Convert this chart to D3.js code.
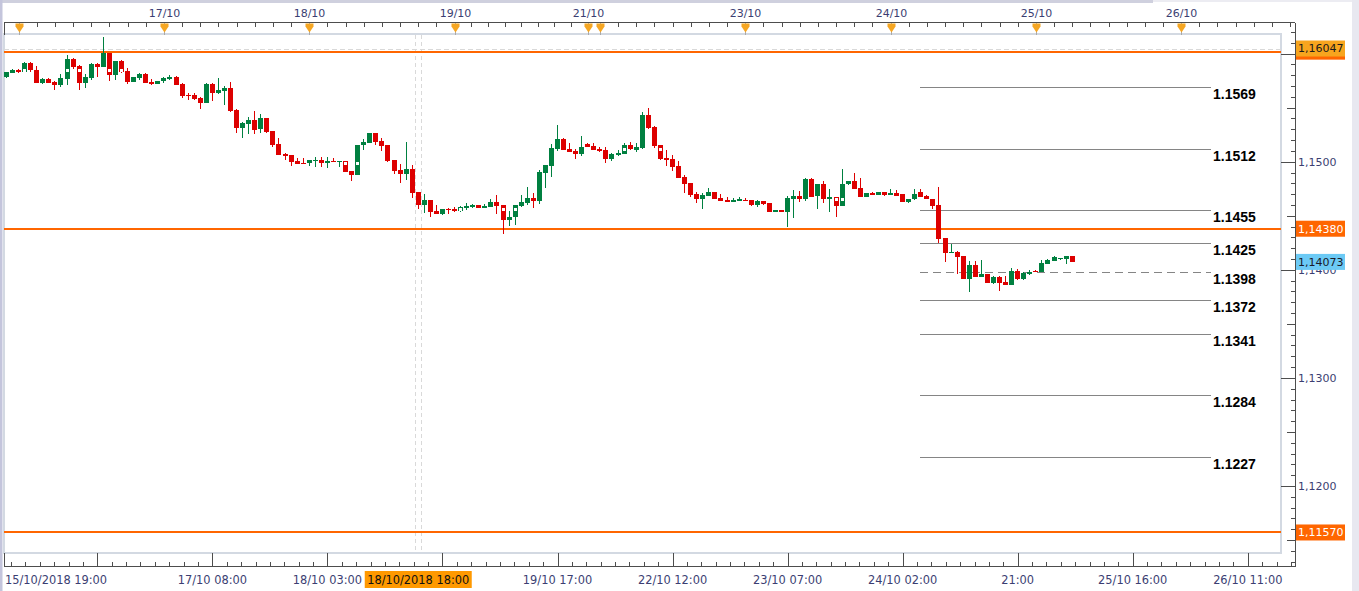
<!DOCTYPE html>
<html><head><meta charset="utf-8">
<script src="https://cdn.jsdelivr.net/npm/d3@7"></script>
<style>html,body{margin:0;padding:0;background:#fff;overflow:hidden}</style>
</head><body><svg id="c" width="1359" height="591"></svg>
<script>
// ---- hourly candles (index 0 = 15/10 22:00, weekend hours removed) ----
const opens=[1.15786,1.15823,1.15846,1.15833,1.15913,1.15848,1.15731,1.15765,1.15737,1.15710,1.15765,1.15950,1.15885,1.15731,1.15777,1.15904,1.15879,1.16008,1.15805,1.15932,1.15839,1.15737,1.15777,1.15811,1.15737,1.15722,1.15750,1.15765,1.15784,1.15722,1.15620,1.15617,1.15590,1.15546,1.15719,1.15636,1.15657,1.15682,1.15478,1.15312,1.15349,1.15386,1.15300,1.15402,1.15284,1.15167,1.15071,1.15062,1.15009,1.14991,1.14985,1.15004,1.15016,1.14991,1.15009,1.15000,1.15006,1.14914,1.14880,1.15152,1.15173,1.15266,1.15192,1.15155,1.15016,1.14923,1.14889,1.14933,1.14720,1.14602,1.14646,1.14544,1.14519,1.14565,1.14562,1.14541,1.14572,1.14581,1.14600,1.14572,1.14581,1.14627,1.14600,1.14465,1.14484,1.14590,1.14621,1.14664,1.14637,1.14896,1.14960,1.15118,1.15210,1.15118,1.15099,1.15071,1.15164,1.15145,1.15118,1.15108,1.15025,1.15065,1.15071,1.15155,1.15108,1.15127,1.15432,1.15321,1.15155,1.15034,1.15025,1.14960,1.14858,1.14803,1.14701,1.14655,1.14683,1.14720,1.14664,1.14646,1.14627,1.14637,1.14650,1.14646,1.14600,1.14637,1.14618,1.14535,1.14553,1.14538,1.14658,1.14683,1.14658,1.14840,1.14686,1.14793,1.14658,1.14673,1.14593,1.14793,1.14822,1.14757,1.14676,1.14713,1.14695,1.14720,1.14695,1.14711,1.14699,1.14630,1.14652,1.14720,1.14686,1.14655,1.14600,1.14294,1.14158,1.14168,1.14128,1.13918,1.14042,1.13936,1.13958,1.13881,1.13936,1.13887,1.13862,1.13992,1.13912,1.13964,1.13992,1.13980,1.14057,1.14084,1.14097,1.14103,1.14125];
const highs=[1.15834,1.15858,1.15853,1.15922,1.15918,1.15885,1.15770,1.15770,1.15742,1.15811,1.15987,1.15959,1.15890,1.15811,1.15909,1.15909,1.16154,1.16010,1.15936,1.15941,1.15867,1.15788,1.15816,1.15816,1.15765,1.15751,1.15779,1.15802,1.15793,1.15724,1.15640,1.15636,1.15594,1.15724,1.15724,1.15777,1.15700,1.15737,1.15483,1.15363,1.15414,1.15469,1.15441,1.15404,1.15288,1.15217,1.15076,1.15066,1.15032,1.15032,1.15020,1.15041,1.15041,1.15041,1.15037,1.15011,1.15011,1.14918,1.15159,1.15210,1.15270,1.15270,1.15219,1.15159,1.15020,1.14976,1.15182,1.14972,1.14724,1.14701,1.14650,1.14600,1.14567,1.14570,1.14581,1.14586,1.14615,1.14609,1.14604,1.14611,1.14655,1.14692,1.14604,1.14544,1.14604,1.14692,1.14766,1.14711,1.14923,1.14974,1.15167,1.15340,1.15215,1.15173,1.15118,1.15238,1.15169,1.15173,1.15136,1.15136,1.15076,1.15108,1.15173,1.15182,1.15173,1.15460,1.15497,1.15326,1.15159,1.15108,1.15062,1.15006,1.14877,1.14807,1.14720,1.14711,1.14757,1.14724,1.14701,1.14673,1.14664,1.14673,1.14664,1.14650,1.14646,1.14641,1.14622,1.14556,1.14556,1.14683,1.14738,1.14732,1.14845,1.14845,1.14798,1.14822,1.14748,1.14677,1.14933,1.14826,1.14896,1.14849,1.14715,1.14723,1.14724,1.14724,1.14748,1.14741,1.14704,1.14655,1.14745,1.14745,1.14690,1.14659,1.14769,1.14298,1.14239,1.14172,1.14132,1.14081,1.14081,1.14094,1.13962,1.13940,1.13940,1.13943,1.14017,1.14005,1.13977,1.13995,1.14001,1.14091,1.14098,1.14125,1.14113,1.14128,1.14128];
const lows=[1.15777,1.15820,1.15821,1.15830,1.15833,1.15728,1.15722,1.15728,1.15663,1.15694,1.15712,1.15860,1.15663,1.15685,1.15756,1.15786,1.15876,1.15750,1.15756,1.15825,1.15722,1.15733,1.15759,1.15728,1.15712,1.15719,1.15731,1.15759,1.15705,1.15592,1.15574,1.15571,1.15488,1.15543,1.15564,1.15626,1.15527,1.15460,1.15266,1.15219,1.15256,1.15256,1.15263,1.15270,1.15139,1.15060,1.15016,1.14963,1.14977,1.14979,1.14963,1.14954,1.14954,1.14945,1.14997,1.14954,1.14905,1.14824,1.14877,1.15106,1.15169,1.15157,1.15102,1.14997,1.14889,1.14806,1.14831,1.14667,1.14562,1.14528,1.14491,1.14515,1.14510,1.14519,1.14537,1.14539,1.14551,1.14572,1.14568,1.14568,1.14577,1.14519,1.14331,1.14408,1.14417,1.14581,1.14602,1.14575,1.14609,1.14757,1.14861,1.15099,1.15104,1.15090,1.15025,1.15056,1.15132,1.15108,1.15090,1.14988,1.15006,1.15056,1.15067,1.15108,1.15090,1.15122,1.15307,1.15127,1.15020,1.14960,1.14914,1.14845,1.14711,1.14673,1.14618,1.14562,1.14679,1.14651,1.14633,1.14624,1.14624,1.14633,1.14633,1.14590,1.14581,1.14600,1.14535,1.14531,1.14531,1.14396,1.14482,1.14630,1.14639,1.14672,1.14565,1.14621,1.14532,1.14491,1.14588,1.14789,1.14746,1.14672,1.14672,1.14692,1.14692,1.14686,1.14692,1.14683,1.14627,1.14621,1.14648,1.14672,1.14655,1.14562,1.14251,1.14075,1.14154,1.13959,1.13914,1.13792,1.13932,1.13932,1.13877,1.13866,1.13807,1.13855,1.13858,1.13908,1.13908,1.13955,1.13977,1.13977,1.14054,1.14080,1.14094,1.14051,1.14073];
const closes=[1.15830,1.15848,1.15830,1.15913,1.15848,1.15731,1.15765,1.15731,1.15710,1.15774,1.15950,1.15879,1.15731,1.15784,1.15904,1.15876,1.16008,1.15805,1.15932,1.15830,1.15737,1.15784,1.15811,1.15731,1.15719,1.15747,1.15774,1.15784,1.15710,1.15608,1.15611,1.15580,1.15543,1.15719,1.15640,1.15663,1.15682,1.15469,1.15312,1.15358,1.15386,1.15293,1.15402,1.15275,1.15157,1.15065,1.15056,1.15000,1.14982,1.14982,1.15016,1.15016,1.14985,1.15009,1.15000,1.15006,1.14908,1.14880,1.15155,1.15182,1.15266,1.15185,1.15148,1.15009,1.14917,1.14889,1.14933,1.14713,1.14602,1.14646,1.14535,1.14519,1.14562,1.14556,1.14541,1.14584,1.14588,1.14600,1.14572,1.14590,1.14627,1.14593,1.14464,1.14490,1.14600,1.14627,1.14664,1.14637,1.14905,1.14970,1.15127,1.15210,1.15108,1.15093,1.15071,1.15136,1.15136,1.15111,1.15102,1.15025,1.15071,1.15083,1.15155,1.15118,1.15136,1.15432,1.15312,1.15145,1.15025,1.15016,1.14951,1.14849,1.14793,1.14692,1.14655,1.14692,1.14720,1.14655,1.14637,1.14627,1.14646,1.14655,1.14637,1.14600,1.14637,1.14609,1.14538,1.14553,1.14535,1.14664,1.14683,1.14658,1.14840,1.14676,1.14793,1.14658,1.14673,1.14593,1.14793,1.14822,1.14750,1.14676,1.14711,1.14695,1.14720,1.14695,1.14708,1.14686,1.14630,1.14652,1.14704,1.14676,1.14658,1.14593,1.14288,1.14158,1.14168,1.14121,1.13918,1.14042,1.13936,1.13958,1.13881,1.13936,1.13881,1.13860,1.13992,1.13912,1.13973,1.13982,1.13980,1.14063,1.14094,1.14116,1.14109,1.14125,1.14073];

// small white event markers (candle index, price)
const markerIdx=[3,10,12,17,19,56,58,75,82,84,102,108,137,138];
const markerVal=[1.15851,1.15851,1.15851,1.15851,1.15851,1.14991,1.14991,1.14562,1.14562,1.14562,1.15118,1.15118,1.14655,1.14655];

// top axis: day starts (candle index) and labels
const dayIdx=[2,26,50,74,96,98,122,146,170,194];
const dayLabels=[null,"17/10","18/10","19/10","21/10",null,"23/10","24/10","25/10","26/10"];
// bottom axis
const timeIdx=[15,34,53,72,91,110,129,148,167,186,205];
const timeLabels=[null,"17/10 08:00","18/10 03:00",null,"19/10 17:00","22/10 12:00","23/10 07:00","24/10 02:00","21:00","25/10 16:00","26/10 11:00"];
const firstTimeLabel="15/10/2018 19:00";
const cursorIdx=68, cursorLabel="18/10/2018 18:00";
// price axis (visible labels)
const priceTicks=[1.12,1.13,1.14,1.15];
// fibonacci levels
const fibLevels=[1.1569,1.1512,1.1455,1.1425,1.1398,1.1372,1.1341,1.1284,1.1227];
const fibDashed=1.1398;
// orange horizontal lines
const orangeLines=[1.16018,1.1438,1.1157];
const orangeLabels=[null,"1,14380","1,11570"];
const highLine=1.16047, highLabel="1,16047";
const lastPrice=1.14073, lastLabel="1,14073";

const svg=d3.select("#c");
const W=1359,H=591;
const PL=4,PR=1281,PT=35,PB=553,AX=1295,TOPY=22.5,BOTY=566.5;
const x=d3.scaleLinear().domain([-0.413,212.8]).range([4,1295]);
const y=d3.scaleLinear().domain([1.12,1.15]).range([486,161.7]);
const FONT="'DejaVu Sans', Verdana, sans-serif";
const TXT="#3b3e72";
const GREEN="#008040", RED="#dd0000", ORANGE="#ff6600";

svg.append("rect").attr("width",W).attr("height",H).attr("fill","#fff");
// window chrome
svg.append("rect").attr("x",0).attr("y",0).attr("width",1153).attr("height",3).attr("fill","#cfd0de");
svg.append("rect").attr("x",1153).attr("y",0).attr("width",206).attr("height",2).attr("fill","#ececf2");
svg.append("rect").attr("x",0).attr("y",0).attr("width",2.5).attr("height",H).attr("fill","#c4c5dc");
svg.append("rect").attr("x",1352).attr("y",0).attr("width",7).attr("height",H).attr("fill","#e8e8f0");

// plot border
svg.append("rect").attr("x",PL).attr("y",PT-1).attr("width",PR-PL).attr("height",PB-PT+1)
  .attr("fill","#fff").attr("stroke","#d3d9e2").attr("stroke-width",2);

const plot=svg.append("g");
// crosshair
[-3,3].forEach(d=>{
  plot.append("line").attr("x1",Math.round(x(cursorIdx))+d+0.5).attr("x2",Math.round(x(cursorIdx))+d+0.5)
   .attr("y1",PT).attr("y2",PB).attr("stroke","#d9d9d9").attr("stroke-dasharray","4,3");
});
// high dashed line
plot.append("line").attr("x1",PL).attr("x2",PR).attr("y1",Math.round(y(highLine))+0.5).attr("y2",Math.round(y(highLine))+0.5)
  .attr("stroke","#d9d9d9").attr("stroke-dasharray","5,3");
// orange lines
orangeLines.forEach(v=>{
  plot.append("line").attr("x1",PL).attr("x2",PR).attr("y1",Math.round(y(v))).attr("y2",Math.round(y(v)))
   .attr("stroke",ORANGE).attr("stroke-width",2);
});
// fib lines
fibLevels.forEach(v=>{
  const yy=Math.round(y(v))+0.5;
  plot.append("line").attr("x1",920).attr("x2",1211).attr("y1",yy).attr("y2",yy)
    .attr("stroke","#858585").attr("stroke-width",1)
    .attr("stroke-dasharray",v===fibDashed?"8,5":null);
  plot.append("text").attr("x",1213).attr("y",yy+11.5).text(v.toFixed(4))
    .attr("font-family","'Liberation Sans', Arial, sans-serif").attr("font-weight","bold")
    .attr("font-size",14).attr("fill","#000");
});
// candles
const cg=plot.append("g").attr("shape-rendering","crispEdges");
opens.forEach((o,i)=>{
  const c=closes[i],h=highs[i],l=lows[i];
  const col=c>=o?GREEN:RED;
  const bx=Math.round(x(i)-2.5);
  cg.append("rect").attr("x",bx+2).attr("width",1).attr("y",y(h)).attr("height",Math.max(1,y(l)-y(h))).attr("fill",col);
  const top=y(Math.max(o,c)),bot=y(Math.min(o,c));
  cg.append("rect").attr("x",bx).attr("width",5).attr("y",top).attr("height",Math.max(1.2,bot-top)).attr("fill",col);
});
markerIdx.forEach((m,k)=>{
  cg.append("rect").attr("x",Math.round(x(m)-2.5)+1).attr("y",Math.round(y(markerVal[k]))-1).attr("width",3).attr("height",3).attr("fill","#fff");
});

// ---- top axis ----
const ax=svg.append("g").attr("shape-rendering","crispEdges");
ax.append("line").attr("x1",4).attr("x2",AX).attr("y1",TOPY).attr("y2",TOPY).attr("stroke","#4d4d4d");
ax.append("line").attr("x1",4.5).attr("x2",4.5).attr("y1",TOPY).attr("y2",PT).attr("stroke","#4d4d4d");
let topMinor=[];
for(let k=0;k<dayIdx.length;k++){
  const a=dayIdx[k], b=k<dayIdx.length-1?dayIdx[k+1]:null;
  if(b!==null){ if(b-a>=8) for(let j=1;j<8;j++) topMinor.push(a+j*(b-a)/8); }
  else { for(let t=a+3;x(t)<AX-2;t+=3) topMinor.push(t); }
}
topMinor.forEach(t=>{
  const xx=Math.round(x(t))+0.5;
  ax.append("line").attr("x1",xx).attr("x2",xx).attr("y1",TOPY).attr("y2",TOPY+4.5).attr("stroke","#4d4d4d");
});
dayIdx.forEach((t,k)=>{
  const xx=Math.round(x(t))+0.5;
  ax.append("line").attr("x1",xx).attr("x2",xx).attr("y1",TOPY).attr("y2",PT).attr("stroke","#aaaaaa");
  svg.append("path").attr("d",`M${xx-4},${TOPY+1}L${xx+4},${TOPY+1}L${xx+4},${TOPY+4}L${xx},${TOPY+10}L${xx-4},${TOPY+4}Z`)
    .attr("fill","#f5a623");
  if(dayLabels[k]) svg.append("text").attr("x",xx).attr("y",17).attr("text-anchor","middle").text(dayLabels[k])
    .attr("font-family",FONT).attr("font-size",11).attr("fill",TXT);
});

// ---- right axis ----
ax.append("line").attr("x1",AX+0.5).attr("x2",AX+0.5).attr("y1",TOPY).attr("y2",BOTY).attr("stroke","#4d4d4d");
for(let k=1113;k<=1162;k++){
  const yy=Math.round(y(k/1000))+0.5;
  if(yy<TOPY||yy>BOTY) continue;
  const len=k%10===0?14:(k%5===0?8:4);
  ax.append("line").attr("x1",AX-len).attr("x2",AX).attr("y1",yy).attr("y2",yy).attr("stroke","#4d4d4d");
}
priceTicks.forEach(v=>{
  svg.append("text").attr("x",AX+3).attr("y",y(v)).attr("dy","0.35em").text(v.toFixed(4).replace(".",","))
    .attr("font-family",FONT).attr("font-size",11).attr("fill",TXT);
});

// ---- bottom axis ----
ax.append("line").attr("x1",4).attr("x2",AX).attr("y1",BOTY).attr("y2",BOTY).attr("stroke","#4d4d4d");
ax.append("line").attr("x1",4.5).attr("x2",4.5).attr("y1",PB).attr("y2",BOTY).attr("stroke","#4d4d4d");
const step=19/8;
for(let t=timeIdx[0]-step*6;x(t)<AX-2;t+=step){
  if(x(t)<5) continue;
  const major=timeIdx.some(m=>Math.abs(m-t)<0.01);
  const xx=Math.round(x(t))+0.5;
  ax.append("line").attr("x1",xx).attr("x2",xx).attr("y1",BOTY-(major?14:5)).attr("y2",BOTY).attr("stroke","#4d4d4d");
}
svg.append("text").attr("x",5).attr("y",584).text(firstTimeLabel).attr("font-family",FONT).attr("font-size",11.4).attr("fill",TXT);
timeIdx.forEach((t,k)=>{
  if(!timeLabels[k]) return;
  svg.append("text").attr("x",x(t)).attr("y",584).attr("text-anchor","middle").text(timeLabels[k])
    .attr("font-family",FONT).attr("font-size",11.4).attr("fill",TXT);
});
// cursor label
const cx0=x(cursorIdx);
svg.append("rect").attr("x",cx0-53.5).attr("y",571).attr("width",107).attr("height",17).attr("fill","#ff9900");
svg.append("text").attr("x",cx0).attr("y",584).attr("text-anchor","middle").text(cursorLabel)
  .attr("font-family",FONT).attr("font-size",11.4).attr("fill","#111");

// ---- price labels ----
function plabel(v,txt,bg,fg){
  const yy=y(v);
  svg.append("rect").attr("x",AX+1).attr("y",yy-8).attr("width",49).attr("height",16).attr("fill",bg);
  if(txt) svg.append("text").attr("x",AX+3).attr("y",yy).attr("dy","0.35em").text(txt)
    .attr("font-family",FONT).attr("font-size",11).attr("fill",fg);
}
orangeLines.forEach((v,k)=>plabel(v,orangeLabels[k],ORANGE,"#fff"));
plabel(highLine,highLabel,"#f7a51e","#1a1a1a");
plabel(lastPrice,lastLabel,"#6ccaf5","#1a1a2a");
</script></body></html>
